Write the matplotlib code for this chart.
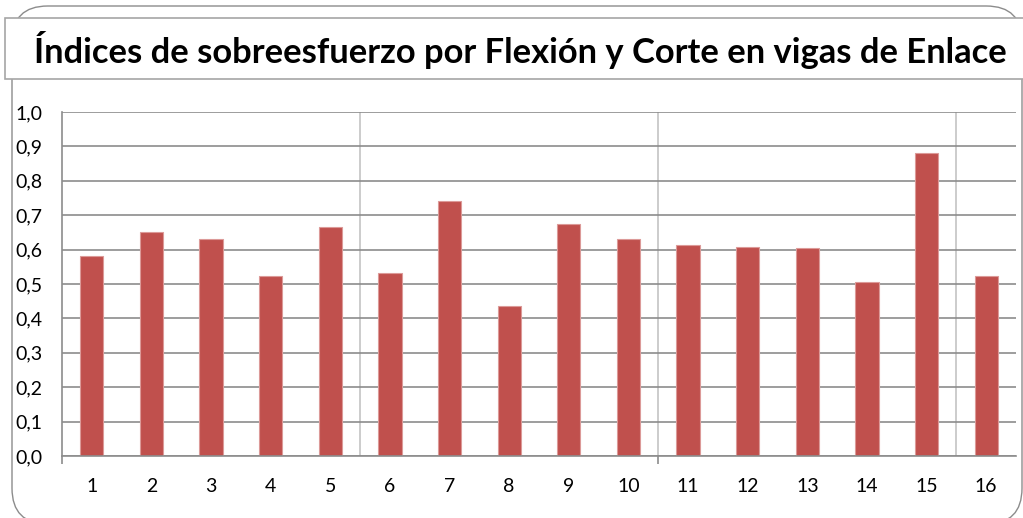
import matplotlib
matplotlib.use("Agg")
import matplotlib.pyplot as plt
from matplotlib.patches import FancyBboxPatch, Rectangle
import numpy as np

categories = [str(i) for i in range(1, 17)]
values = [0.58, 0.65, 0.63, 0.523, 0.666, 0.532, 0.74, 0.437,
          0.675, 0.632, 0.612, 0.609, 0.604, 0.505, 0.882, 0.522]
yticks = [0.0, 0.1, 0.2, 0.3, 0.4, 0.5, 0.6, 0.7, 0.8, 0.9, 1.0]
ytick_labels = ["0,0", "0,1", "0,2", "0,3", "0,4", "0,5", "0,6", "0,7", "0,8", "0,9", "1,0"]
title = "Índices de sobreesfuerzo por Flexión y Corte en vigas de Enlace"

plt.rcParams["font.family"] = ["Lato", "DejaVu Sans"]

W, H = 1023, 518
fig = plt.figure(figsize=(W / 100, H / 100), dpi=100)
fig.patch.set_facecolor("white")

# outer chart border (rounded)
outer = FancyBboxPatch((12 / W, 1 - 524 / H), (1022 - 12) / W, (524 - 6) / H,
                       boxstyle="round,pad=0,rounding_size=0.035",
                       transform=fig.transFigure, facecolor="white",
                       edgecolor="#8c8c8c", linewidth=1.0, clip_on=False,
                       mutation_aspect=W / H, zorder=0)
fig.patches.append(outer)

# title box
tbox = Rectangle((5 / W, 1 - 79 / H), (1040 - 5) / W, (79 - 18) / H,
                 transform=fig.transFigure, facecolor="white",
                 edgecolor="#a6a6a6", linewidth=1.2, clip_on=False, zorder=0.5)
fig.patches.append(tbox)

ax = fig.add_axes([62 / W, 1 - 456 / H, (1016 - 62) / W, (456 - 112) / H])
ax.set_zorder(2)
ax.patch.set_alpha(0)
x = np.arange(1, len(categories) + 1)
ax.bar(x, values, width=0.39, color="#C0504D", edgecolor="#dc9a98",
       linewidth=0.8, zorder=3)

ax.set_xlim(0.5, len(categories) + 0.5)
ax.set_ylim(0, 1.0)

ax.set_yticks(yticks)
ax.set_yticklabels(ytick_labels)
ax.tick_params(axis="y", length=0, pad=14, labelsize=14)
ax.yaxis.grid(True, color="#8c8c8c", linewidth=1.2, zorder=0)

# x labels as minor ticks, tick marks as major
ax.set_xticks(x, minor=True)
ax.set_xticklabels(categories, minor=True)
ax.tick_params(axis="x", which="minor", length=0, pad=16, labelsize=14)
ax.set_xticks([0.5, 10.5])
ax.set_xticklabels(["", ""])
ax.tick_params(axis="x", which="major", length=6, color="#8c8c8c", width=1.2)

# vertical separators every 5 categories
seps = [i + 0.5 for i in range(5, len(categories), 5)]
ax.vlines(seps, 0, 1.0, color="#c4c4c4", linewidth=1.2, zorder=1)

for s in ["top", "right"]:
    ax.spines[s].set_visible(False)
for s in ["left", "bottom"]:
    ax.spines[s].set_color("#8c8c8c")
    ax.spines[s].set_linewidth(1.2)
    ax.spines[s].set_zorder(4)

# title, fitted to reference width
t = fig.text(520 / W, 1 - 50 / H, title, ha="center", va="center",
             fontsize=24, fontweight="bold", color="black", zorder=3)
fig.canvas.draw()
bb = t.get_window_extent()
t.set_fontsize(24 * 974 / bb.width)

fig.savefig("out.png", dpi=100, facecolor="white")
